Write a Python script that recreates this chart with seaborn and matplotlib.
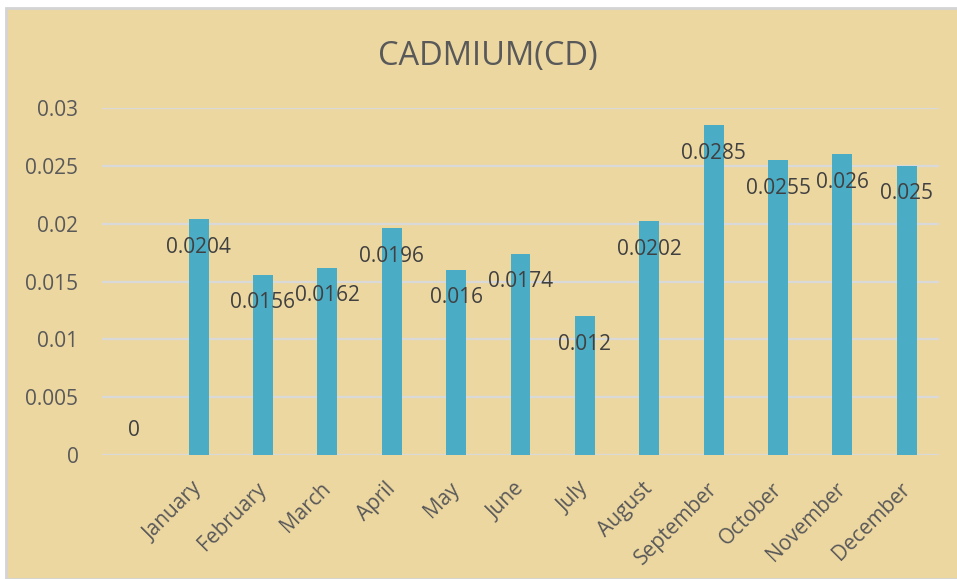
import matplotlib
matplotlib.use("Agg")
import matplotlib.pyplot as plt
import matplotlib.transforms as mtransforms
import seaborn as sns
import pandas as pd
from matplotlib.patches import Rectangle

# categories: the first slot has no name and a value of 0
months = ["", "January", "February", "March", "April", "May", "June",
          "July", "August", "September", "October", "November", "December"]
cadmium = [0, 0.0204, 0.0156, 0.0162, 0.0196, 0.016, 0.0174,
           0.012, 0.0202, 0.0285, 0.0255, 0.026, 0.025]
y_ticks = [0, 0.005, 0.01, 0.015, 0.02, 0.025, 0.03]
y_tick_labels = ["0", "0.005", "0.01", "0.015", "0.02", "0.025", "0.03"]

df = pd.DataFrame({"pos": range(len(months)), "month": months, "value": cadmium})

sns.set_style("white")
plt.rcParams["font.family"] = ["Open Sans", "DejaVu Sans"]

fig = plt.figure(figsize=(9.57, 5.79), dpi=100, facecolor="white")
# papyrus-coloured chart area with a thin grey frame
fig.patches.append(Rectangle((6 / 957, 0), 1, 1 - 8 / 579, transform=fig.transFigure,
                             facecolor="#EDD7A1", edgecolor="#D4D4D4", linewidth=2, zorder=-10))

ax = fig.add_axes([102 / 957, 1 - 455 / 579, (939 - 102) / 957, (455 - 108) / 579])
ax.set_zorder(2)
ax.set_facecolor("none")

sns.barplot(data=df, x="pos", y="value", color="#4BACC6", width=0.31,
            saturation=1, linewidth=0, ax=ax, zorder=3)

ax.set_ylim(0, 0.03)
ax.set_xlim(-0.5, len(months) - 0.5)
ax.set_yticks(y_ticks)
ax.set_yticklabels(y_tick_labels)
ax.set_xticks(range(len(months)))
ax.set_xticklabels(months, rotation=45, ha="right", rotation_mode="anchor")
ax.tick_params(axis="y", length=0, pad=17, labelsize=15, labelcolor="#595959")
ax.tick_params(axis="x", length=0, pad=14, labelsize=15, labelcolor="#595959")
# nudge the slanted month names a little left and down
shift = mtransforms.ScaledTranslation(-7 / 100, -4 / 100, fig.dpi_scale_trans)
for lab in ax.get_xticklabels():
    lab.set_transform(lab.get_transform() + shift)
ax.set_xlabel("")
ax.set_ylabel("")
for s in ax.spines.values():
    s.set_visible(False)
ax.yaxis.grid(True, color="#D9D9D9", linewidth=1.6, zorder=1)
ax.set_axisbelow(True)

# data labels, sitting just under the top of each bar
for i, v in enumerate(cadmium):
    off = -28 if v > 0 else 25
    ax.annotate(f"{v:g}", (i, v), xytext=(0, off), textcoords="offset pixels",
                ha="center", va="center", fontsize=15, color="#404040", zorder=4)

fig.text(488 / 957, 1 - 56 / 579, "CADMIUM(CD)", ha="center", va="center",
         fontsize=23.5, color="#595959")

fig.savefig("out.png", dpi=100, facecolor=fig.get_facecolor())
